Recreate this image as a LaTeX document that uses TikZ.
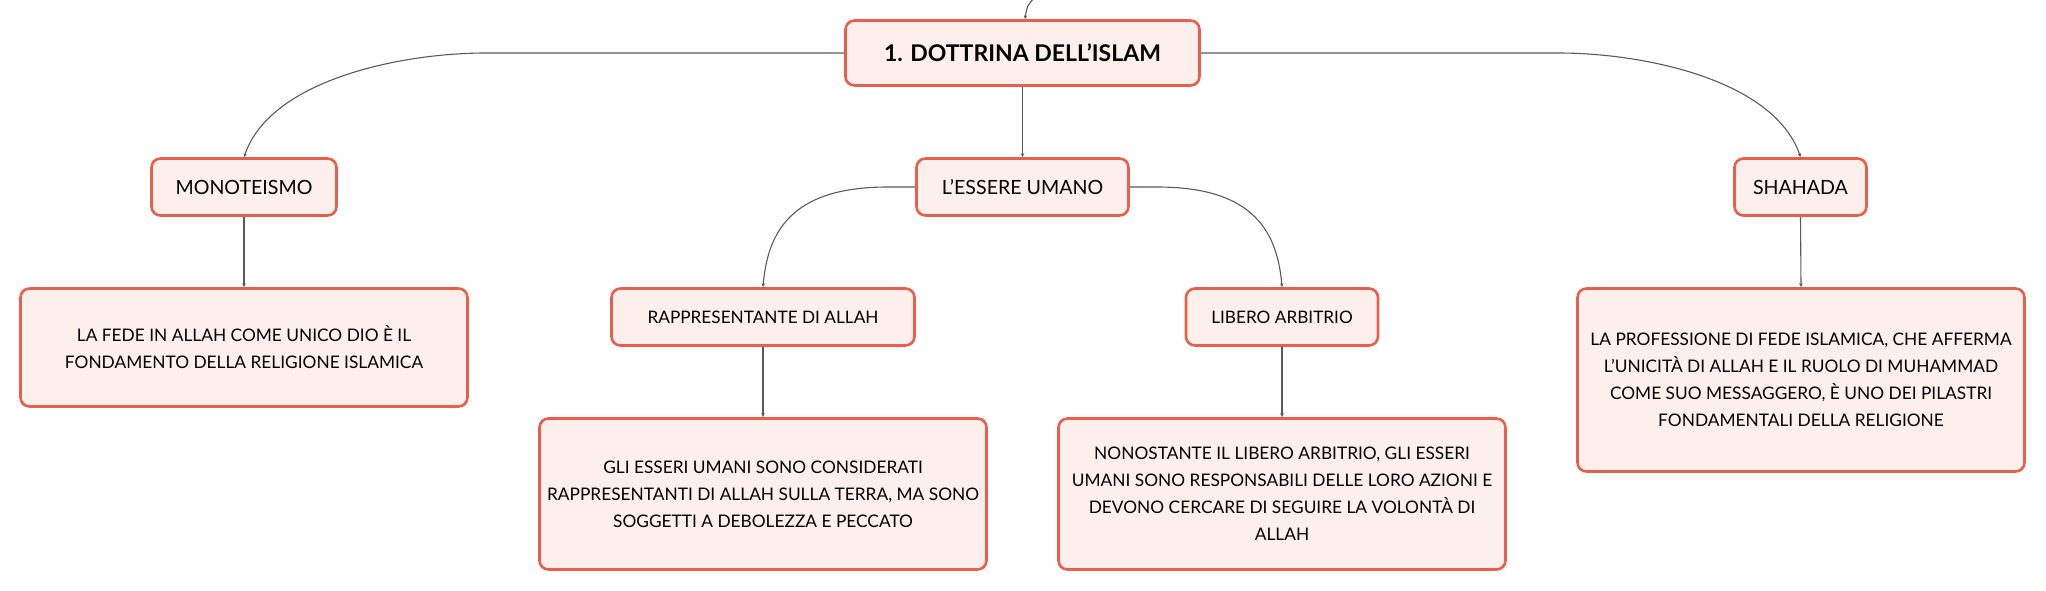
\documentclass[tikz,border=0pt]{standalone}
\usepackage{fontspec}
\setmainfont{Lato}
\usetikzlibrary{arrows.meta,calc}
\definecolor{boxfill}{HTML}{FDF0EC}
\definecolor{boxline}{HTML}{E8604C}
\definecolor{connc}{HTML}{5A5A5A}
\newcommand{\apos}{\char"0027\relax}
\begin{document}
\begin{tikzpicture}[x=1pt,y=-1pt,
  box/.style={draw=boxline, line width=2.6pt, fill=boxfill, rounded corners=9pt,
              inner sep=0pt, align=center, text=black},
  rootbox/.style={box, font=\fontsize{23}{27}\selectfont\bfseries},
  lvone/.style={box, font=\fontsize{19.6}{26}\selectfont},
  lvtwo/.style={box, font=\fontsize{17.2}{24}\selectfont},
  descbox/.style={box, font=\fontsize{17.3}{27}\selectfont},
  conn/.style={draw=connc, line width=1.1pt, -{Stealth[length=4pt,width=3.5pt]}}]
\useasboundingbox (0,0) rectangle (2046,591);

% nodes
\node[rootbox, minimum width=354pt, minimum height=65pt] (root) at (1022.5,53) {1. DOTTRINA DELL\apos ISLAM};
\node[lvone, minimum width=185pt, minimum height=57pt] (mono) at (244,187) {MONOTEISMO};
\node[lvone, minimum width=212pt, minimum height=57pt] (essere) at (1022.5,187) {L\apos ESSERE UMANO};
\node[lvone, minimum width=132pt, minimum height=57pt] (shahada) at (1800.5,187) {SHAHADA};
\node[lvtwo, minimum width=303pt, minimum height=57pt] (rapp) at (763,317) {RAPPRESENTANTE DI ALLAH};
\node[lvtwo, minimum width=192pt, minimum height=57pt] (libero) at (1282,317) {LIBERO ARBITRIO};

\node[descbox, minimum width=447pt, minimum height=118pt] (monod) at (244,347.5)
  {LA FEDE IN ALLAH COME UNICO DIO È IL\\FONDAMENTO DELLA RELIGIONE ISLAMICA};
\node[descbox, minimum width=447pt, minimum height=151pt] (rappd) at (763,494)
  {GLI ESSERI UMANI SONO CONSIDERATI\\RAPPRESENTANTI DI ALLAH SULLA TERRA, MA SONO\\SOGGETTI A DEBOLEZZA E PECCATO};
\node[descbox, minimum width=447pt, minimum height=151pt] (liberod) at (1282,494)
  {NONOSTANTE IL LIBERO ARBITRIO, GLI ESSERI\\UMANI SONO RESPONSABILI DELLE LORO AZIONI E\\DEVONO CERCARE DI SEGUIRE LA VOLONTÀ DI\\ALLAH};
\node[descbox, minimum width=447pt, minimum height=183pt] (shahadad) at (1801,380)
  {LA PROFESSIONE DI FEDE ISLAMICA, CHE AFFERMA\\L\apos UNICITÀ DI ALLAH E IL RUOLO DI MUHAMMAD\\COME SUO MESSAGGERO, È UNO DEI PILASTRI\\FONDAMENTALI DELLA RELIGIONE};

% connectors
\coordinate (parent) at (1035,-3);
\draw[conn] (parent) .. controls (1027,6) .. ([xshift=2.5pt]root.north);

\draw[conn] (root.west) -- ([xshift=242pt]mono.north |- root.west)
  .. controls +(-86,0) and +(26,-77) .. (mono.north);
\draw[conn] (root.east) -- ([xshift=-242pt]shahada.north |- root.east)
  .. controls +(86,0) and +(-26,-77) .. (shahada.north);
\draw[conn] (root.south) -- (essere.north);

\draw[conn] (essere.west) -- ([xshift=125pt]rapp.north |- essere.west)
  .. controls +(-90,0) and +(5,-62) .. (rapp.north);
\draw[conn] (essere.east) -- ([xshift=-125pt]libero.north |- essere.east)
  .. controls +(90,0) and +(-5,-62) .. (libero.north);

\draw[conn] (mono.south) -- (monod.north);
\draw[conn] (rapp.south) -- (rappd.north);
\draw[conn] (libero.south) -- (liberod.north);
\draw[conn] (shahada.south) -- (shahadad.north);
\end{tikzpicture}
\end{document}
